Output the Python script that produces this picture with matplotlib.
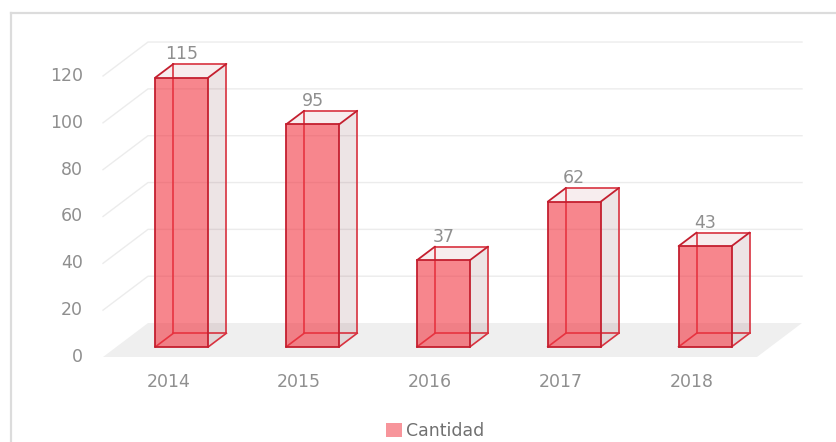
import numpy as np
import matplotlib
matplotlib.use('Agg')
import matplotlib.pyplot as plt
from matplotlib.patches import Polygon, Patch
from matplotlib.lines import Line2D

# data
years = ['2014', '2015', '2016', '2017', '2018']
cantidad = [115, 95, 37, 62, 43]
yticks = [0, 20, 40, 60, 80, 100, 120]
series_name = 'Cantidad'

# fake 3d settings (depth offset in data units)
ddx, ddy = 0.344, 14.5
d0, d1 = 0.3, 0.7
bw = 0.405

edge = '#c41f2f'
grid_c = '#ececec'
txt_c = '#8f8f8f'

fig = plt.figure(figsize=(8.37, 4.42), dpi=100)
ax = fig.add_axes([0, 0, 1, 1])
ax.set_xlim(-1.2875, 5.1116)
ax.set_ylim(-36.30, 152.45)
ax.axis('off')

# outer frame (only top and left visible)
fig.add_artist(Line2D([11 / 837, 11 / 837], [0, 1 - 13 / 442], transform=fig.transFigure,
                      color='#dcdcdc', lw=1.6))
fig.add_artist(Line2D([11 / 837, 1], [1 - 13 / 442, 1 - 13 / 442], transform=fig.transFigure,
                      color='#dcdcdc', lw=1.6))

n = len(years)
x0, x1 = -0.5, n - 0.5

# gridlines: left diagonal + back horizontal
for v in yticks[1:]:
    ax.plot([x0, x0 + ddx, x1 + ddx], [v, v + ddy, v + ddy], color=grid_c, lw=1, zorder=1)
    ax.text(x0 - 0.153, v, str(v), ha='right', va='center', color=txt_c, fontsize=12.5)
ax.text(x0 - 0.153, 0, '0', ha='right', va='center', color=txt_c, fontsize=12.5)

# floor
ax.add_patch(Polygon([(x0, 0), (x1, 0), (x1 + ddx, ddy), (x0 + ddx, ddy)],
                     closed=True, facecolor='#efefef', edgecolor='none', zorder=2))

for i, v in enumerate(cantidad):
    fx = i + d0 * ddx
    fy = d0 * ddy
    bx = i + d1 * ddx
    by = d1 * ddy
    l, r = -bw / 2, bw / 2
    # corners
    F = [(fx + l, fy), (fx + r, fy), (fx + r, fy + v), (fx + l, fy + v)]
    B = [(bx + l, by), (bx + r, by), (bx + r, by + v), (bx + l, by + v)]
    # right side
    ax.add_patch(Polygon([F[1], B[1], B[2], F[2]], facecolor=(0.55, 0.29, 0.32, 0.15),
                         edgecolor='none', zorder=3))
    # top
    ax.add_patch(Polygon([F[3], F[2], B[2], B[3]], facecolor=(0.73, 0.33, 0.37, 0.1),
                         edgecolor='none', zorder=3))
    # hidden edges
    for a, b in [(B[0], B[1]), (B[0], B[3]), (F[0], B[0]), (B[1], B[2]), (B[2], B[3]),
                 (F[1], B[1])]:
        ax.plot([a[0], b[0]], [a[1], b[1]], color='#d8323f', lw=1.2, zorder=4)
    # front face
    ax.add_patch(Polygon(F, facecolor=(0.948, 0.209, 0.255, 0.6), edgecolor='none', zorder=5))
    # visible edges
    for a, b in [(F[0], F[1]), (F[1], F[2]), (F[2], F[3]), (F[3], F[0]),
                 (F[3], B[3]), (F[2], B[2])]:
        ax.plot([a[0], b[0]], [a[1], b[1]], color=edge, lw=1.3, zorder=6,
                solid_capstyle='round')
    # value label
    ax.text(fx, by + v + 0.3, str(v), ha='center', va='bottom', color=txt_c, fontsize=12.5,
            zorder=7)
    # category label
    ax.text(i, -10.7, years[i], ha='center', va='center', color=txt_c, fontsize=12.5)

fig.legend(handles=[Patch(facecolor='#f7959b', edgecolor='none', label=series_name)],
           loc='center', bbox_to_anchor=(435 / 837, 1 - 431 / 442), frameon=False,
           handlelength=0.9, handleheight=0.9, handletextpad=0.25, fontsize=12.5,
           labelcolor='#707070')

fig.savefig('out.png', dpi=100)
